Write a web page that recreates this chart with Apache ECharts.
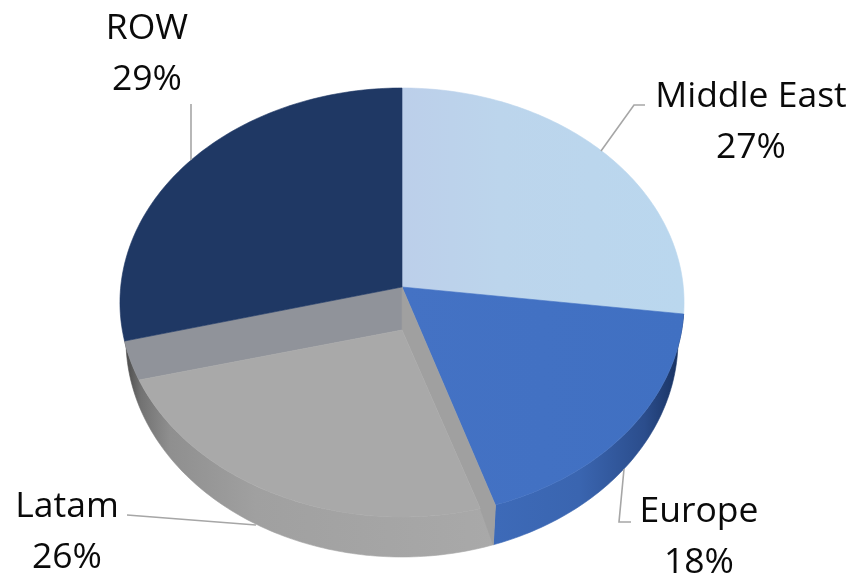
<!DOCTYPE html>
<html><head><meta charset="utf-8">
<style>html,body{margin:0;padding:0;background:#fff}#c{width:854px;height:580px}</style>
<script src="https://cdn.jsdelivr.net/npm/echarts@6/dist/echarts.min.js"></script>
</head><body><div id="c"></div>
<script>
const categories = ['Middle East', 'Europe', 'Latam', 'ROW'];
const shares = [27, 18, 26, 29];

const total = shares.reduce((a, b) => a + b, 0);
const rad = Math.PI / 180;
const C = {x: 402, y: 287, a: 281.3, b: 213.4, k: 0.0723};
const B = {x: 402, y: 340, rx: 276, ry: 217};
const top_ = t => { const X = Math.sin(t * rad), Y = Math.cos(t * rad), w = 1 + C.k * Y;
  return [C.x + C.a * X / w, C.y - C.b * Y / w]; };
const bot = t => [B.x + B.rx * Math.sin(t * rad), B.y - B.ry * Math.cos(t * rad)];
const arc = (f, t0, t1) => { const n = Math.max(4, Math.ceil(Math.abs(t1 - t0))), p = [];
  for (let i = 0; i <= n; i++) p.push(f(t0 + (t1 - t0) * i / n)); return p; };
const grad = (x, x2, stops) => ({type: 'linear', x, y: 0, x2, y2: 0, global: true,
  colorStops: stops.map(s => ({offset: s[0], color: s[1]}))});
const poly = (points, fill, stroke) => ({type: 'polygon', shape: {points},
  style: {fill, stroke: stroke === undefined ? fill : stroke, lineWidth: 0.6}});
const line = points => ({type: 'polyline', shape: {points},
  style: {fill: null, stroke: '#a6a6a6', lineWidth: 1.6}});
const label = (text, x, y) => ({type: 'text', style: {text, x, y, align: 'center', verticalAlign: 'middle',
  font: '400 35.5px "Open Sans"', lineHeight: 51, fill: '#0a0a0a'}});

const sideSeam = -1.3;
const look = {
  'Middle East': {
    top: grad(402, 684, [[0, '#bccfea'], [0.35, '#bcd5ec'], [1, '#bad7ee']]),
    lead: [[601, 151], [634, 105], [645, 105]], text: [751, 122]},
  'Europe': {
    top: grad(402, 684, [[0, '#4472c4'], [1, '#4070c2']]),
    side: grad(495, 682, [[0, '#3d6ab8'], [0.45, '#3a65b0'], [0.8, '#2b4d8c'], [1, '#17305e']]),
    lead: [[624, 469], [619, 522], [631, 522]], text: [699, 537]},
  'Latam': {
    top: '#a9a9a9',
    side: grad(126, 495, [[0, '#4c4c4c'], [0.04, '#727272'], [0.12, '#8f8f8f'], [0.35, '#a0a0a0'], [1, '#a9a9a9']]),
    lead: [[127, 515], [140, 516], [256, 525]], text: [67, 532]},
  'ROW': {
    top: '#1f3864',
    lead: [[191, 104], [191, 160]], text: [147, 54]}
};

function renderItem(params, api) {
  const i = params.dataIndex, name = categories[i];
  const before = shares.slice(0, i).reduce((a, b) => a + b, 0);
  const t0 = before / total * 360, t1 = t0 + api.value(1) / total * 360;
  const L = look[name], ch = [];
  const apex = [C.x, C.y];
  if (name === 'Europe') {
    ch.push(poly(arc(top_, t0, t1).concat(arc(bot, t1 + sideSeam, 90)), L.side));
  }
  if (name === 'Latam') {
    ch.push(poly(arc(top_, t0, t1).concat(arc(bot, 270, t0 + sideSeam)), L.side));
    const a = [C.x, 330], s = t0 + 3, e = t1 - 10.6;
    ch.push(poly([apex, a, top_(e)].concat(arc(top_, e, t1)), '#90939a'));
    ch.push(poly([apex, top_(t0), bot(t0 + sideSeam), top_(s), a], '#a0a0a0'));
    ch.push(poly([a].concat(arc(top_, s, e)), L.top));
  } else {
    ch.push(poly([apex].concat(arc(top_, t0, t1)), L.top));
  }
  ch.push(line(L.lead));
  ch.push(label(name + '\n' + api.value(1) + '%', L.text[0], L.text[1]));
  return {type: 'group', children: ch};
}

const chart = echarts.init(document.getElementById('c'), null, {renderer: 'canvas'});
chart.setOption({
  animation: false,
  backgroundColor: '#fff',
  series: [{
    type: 'custom', coordinateSystem: 'none', silent: true,
    data: categories.map((n, i) => ({name: n, value: [i, shares[i]]})),
    renderItem
  }]
});
</script></body></html>
